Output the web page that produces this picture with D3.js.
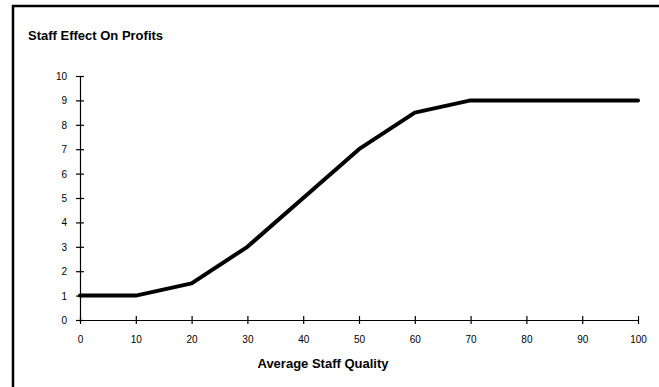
<!DOCTYPE html>
<html>
<head>
<meta charset="utf-8">
<script src="https://cdn.jsdelivr.net/npm/d3@7"></script>
<style>
  html, body { margin: 0; padding: 0; background: #fff; }
  svg { display: block; }
  text { font-family: "Liberation Sans", Arial, sans-serif; fill: #000; }
</style>
</head>
<body>
<svg id="chart" width="659" height="387"></svg>
<script>
// Staff quality (x) against profit effect (y)
const quality = [0, 10, 20, 30, 40, 50, 60, 70, 80, 90, 100];
const effect  = [1, 1, 1.5, 3, 5, 7, 8.5, 9, 9, 9, 9];
const xTicks = [0, 10, 20, 30, 40, 50, 60, 70, 80, 90, 100];
const yTicks = [0, 1, 2, 3, 4, 5, 6, 7, 8, 9, 10];
const chartTitle = "Staff Effect On Profits";
const xTitle = "Average Staff Quality";

const svg = d3.select("#chart");
const W = 659, H = 387;

// outer frame (runs off the right and bottom edges)
svg.append("path")
  .attr("d", `M13,${H + 2} L13,6 L${W + 2},6`)
  .attr("fill", "none")
  .attr("stroke", "#000")
  .attr("stroke-width", 2.5);

svg.append("text")
  .attr("x", 28).attr("y", 39.5)
  .attr("font-size", 13).attr("font-weight", "bold")
  .text(chartTitle);

const x = d3.scaleLinear().domain([0, 100]).range([80, 638]);
const y = d3.scaleLinear().domain([0, 10]).range([320, 76]);

// x axis with ticks crossing the line
const xAxis = svg.append("g").attr("transform", `translate(0,${y(0)})`)
  .call(d3.axisBottom(x).tickValues(xTicks).tickSize(0).tickPadding(0).tickFormat(d3.format("d")));
xAxis.select(".domain").attr("stroke", "#000").attr("stroke-width", 1.2);
xAxis.selectAll(".tick line").attr("y1", -4).attr("y2", 4).attr("stroke", "#000").attr("stroke-width", 1.2);
xAxis.selectAll(".tick text").attr("y", 23).attr("dy", 0).attr("font-size", 10)
  .style("font-family", "'Liberation Sans', Arial, sans-serif").attr("fill", "#000");

const yAxis = svg.append("g").attr("transform", `translate(${x(0)},0)`)
  .call(d3.axisLeft(y).tickValues(yTicks).tickSize(0).tickPadding(0).tickFormat(d3.format("d")));
yAxis.select(".domain").attr("stroke", "#000").attr("stroke-width", 1.2);
yAxis.selectAll(".tick line").attr("x1", -4).attr("x2", 4).attr("stroke", "#000").attr("stroke-width", 1.2);
yAxis.selectAll(".tick text").attr("x", -13).attr("dy", "0.35em").attr("font-size", 10)
  .style("font-family", "'Liberation Sans', Arial, sans-serif").attr("fill", "#000");

svg.append("text")
  .attr("x", 323).attr("y", 368)
  .attr("text-anchor", "middle")
  .attr("font-size", 13).attr("font-weight", "bold")
  .text(xTitle);

const line = d3.line().x((d, i) => x(quality[i])).y(d => y(d));
svg.append("path")
  .datum(effect)
  .attr("d", line)
  .attr("fill", "none")
  .attr("stroke", "#000")
  .attr("stroke-width", 4)
  .attr("stroke-linejoin", "round")
  .attr("stroke-linecap", "round");
</script>
</body>
</html>
